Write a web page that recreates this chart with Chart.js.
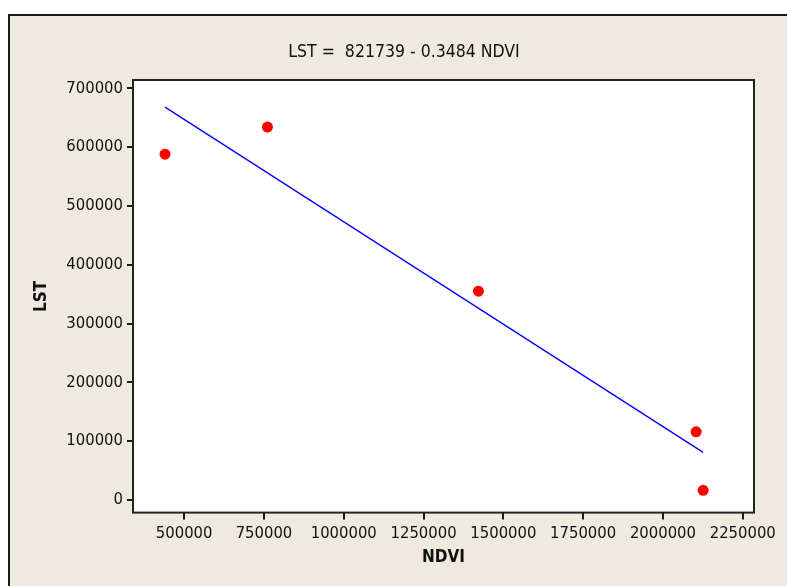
<!DOCTYPE html>
<html>
<head>
<meta charset="utf-8">
<title>LST vs NDVI</title>
<script src="https://cdn.jsdelivr.net/npm/chart.js@4.4.1/dist/chart.umd.min.js"></script>
<style>
    html, body { margin: 0; padding: 0; background: #ffffff; }
    #wrap { width: 787px; height: 586px; }
</style>
</head>
<body>
<div id="wrap"><canvas id="chart" width="787" height="586"></canvas></div>
<script>
// Observed points
const ndvi = [440000, 761000, 1422000, 2104000, 2126000];
const lst = [588000, 634000, 355000, 116000, 16500];

// Fitted line ends
const fitNdvi = [440000, 2126000];
const fitLst = [668000, 81000];

// Axis ticks
const xTicks = [500000, 750000, 1000000, 1250000, 1500000, 1750000, 2000000, 2250000];
const yTicks = [0, 100000, 200000, 300000, 400000, 500000, 600000, 700000];

const titleText = 'LST =  821739 - 0.3484 NDVI';
const FONT = "'DejaVu Sans Condensed', 'Liberation Sans', sans-serif";

// Frame, panel and title
const framePlugin = {
    id: 'frame',
    beforeDraw(chart) {
        const ctx = chart.ctx;
        const a = chart.chartArea;
        ctx.save();
        ctx.fillStyle = '#ffffff';
        ctx.fillRect(0, 0, chart.width, chart.height);
        ctx.fillStyle = '#eeeae0';
        ctx.fillRect(9, 15, chart.width - 9, chart.height - 15);
        ctx.strokeStyle = '#1a1a1a';
        ctx.lineWidth = 2;
        ctx.beginPath();
        ctx.moveTo(9, chart.height);
        ctx.lineTo(9, 15);
        ctx.lineTo(chart.width, 15);
        ctx.stroke();
        ctx.fillStyle = '#ffffff';
        ctx.fillRect(a.left, a.top, a.right - a.left, a.bottom - a.top);
        ctx.fillStyle = '#111111';
        ctx.font = '17.5px ' + FONT;
        ctx.textAlign = 'center';
        ctx.textBaseline = 'middle';
        ctx.fillText(titleText, 404, 52);
        ctx.restore();
    },
    beforeDatasetsDraw(chart) {
        const ctx = chart.ctx;
        const a = chart.chartArea;
        ctx.save();
        ctx.strokeStyle = '#222222';
        ctx.lineWidth = 2;
        ctx.strokeRect(a.left, a.top, a.right - a.left, a.bottom - a.top);
        ctx.restore();
    }
};

const ctx = document.getElementById('chart').getContext('2d');

new Chart(ctx, {
    type: 'scatter',
    data: {
        datasets: [
            {
                label: 'Fit',
                type: 'line',
                data: fitNdvi.map((x, i) => ({ x: x, y: fitLst[i] })),
                borderColor: '#0000ff',
                borderWidth: 1.3,
                pointRadius: 0,
                fill: false,
                tension: 0
            },
            {
                label: 'LST',
                data: ndvi.map((x, i) => ({ x: x, y: lst[i] })),
                backgroundColor: '#ff0000',
                borderWidth: 0,
                pointRadius: 5.5
            }
        ]
    },
    options: {
        responsive: false,
        animation: false,
        devicePixelRatio: 1,
        layout: { padding: { left: 0, top: 80, right: 33, bottom: 0 } },
        plugins: {
            legend: { display: false },
            tooltip: { enabled: false }
        },
        scales: {
            x: {
                type: 'linear',
                min: 339700,
                max: 2285300,
                afterBuildTicks: (scale) => { scale.ticks = xTicks.map(v => ({ value: v })); },
                afterFit: (scale) => { scale.height = 73.4; },
                border: { display: false },
                grid: { drawOnChartArea: false, drawTicks: true, tickLength: 7, color: '#1a1a1a', lineWidth: 2 },
                ticks: {
                    color: '#111111',
                    padding: 4,
                    maxRotation: 0,
                    autoSkip: false,
                    font: { family: FONT, size: 16.5 },
                    callback: (v) => String(v)
                },
                title: {
                    display: true,
                    text: 'NDVI',
                    color: '#111111',
                    font: { family: FONT, size: 17, weight: 'bold' },
                    padding: { top: 0, bottom: 18 }
                }
            },
            y: {
                type: 'linear',
                min: -21400,
                max: 714100,
                afterBuildTicks: (scale) => { scale.ticks = yTicks.map(v => ({ value: v })); },
                afterFit: (scale) => { scale.width = 133; },
                border: { display: false },
                grid: { drawOnChartArea: false, drawTicks: true, tickLength: 6, color: '#1a1a1a', lineWidth: 2 },
                ticks: {
                    color: '#111111',
                    padding: 4,
                    autoSkip: false,
                    font: { family: FONT, size: 16.5 },
                    callback: (v) => String(v)
                },
                title: {
                    display: true,
                    text: 'LST',
                    color: '#111111',
                    font: { family: FONT, size: 17, weight: 'bold' },
                    padding: { top: 31, bottom: 0 }
                }
            }
        }
    },
    plugins: [framePlugin]
});
</script>
</body>
</html>
